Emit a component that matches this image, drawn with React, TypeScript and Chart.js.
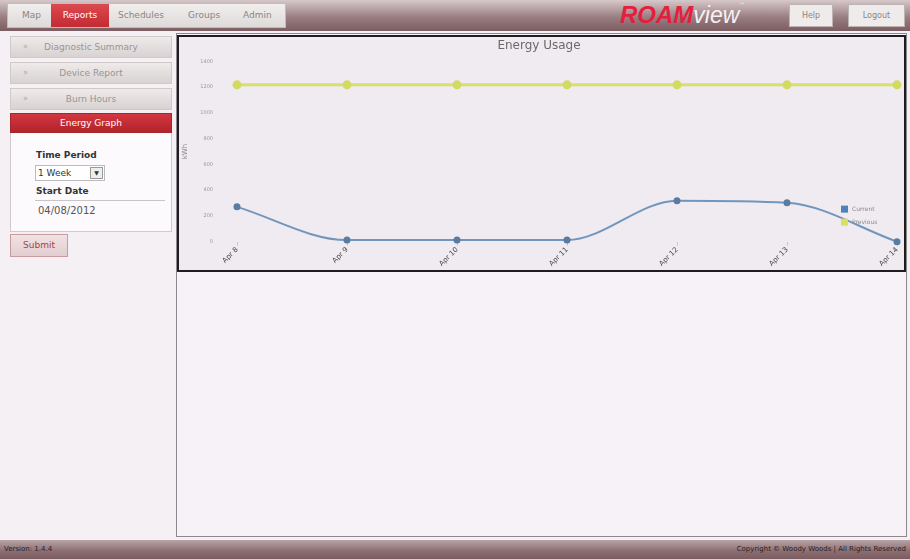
import React, { useEffect, useRef } from "react";
import { Chart, registerables } from "chart.js";

Chart.register(...registerables);

const dayLabels = ["Apr 8", "Apr 9", "Apr 10", "Apr 11", "Apr 12", "Apr 13", "Apr 14"];
const currentKwh = [270, 12, 12, 12, 318, 302, 0];
const previousKwh = [1218, 1218, 1218, 1218, 1218, 1218, 1218];
const yTicksMax = 1400;
const yTicksStep = 200;

const UI_FONT = "'DejaVu Sans', Verdana, sans-serif";

const cornerLegend = {
  id: "cornerLegend",
  afterDatasetsDraw(chart: any) {
    const { ctx, chartArea } = chart;
    const x = chartArea.right - 56;
    const y0 = chartArea.bottom - 36;
    chart.data.datasets.forEach((ds: any, i: number) => {
      const y = y0 + i * 13;
      ctx.save();
      ctx.fillStyle = ds.legendColor;
      ctx.fillRect(x, y, 7, 7);
      ctx.fillStyle = "#8a8a8a";
      ctx.font = "6px " + UI_FONT;
      ctx.textBaseline = "middle";
      ctx.fillText(ds.label, x + 11, y + 3.5);
      ctx.restore();
    });
  },
};

function EnergyChart() {
  const ref = useRef<HTMLCanvasElement | null>(null);
  useEffect(() => {
    if (!ref.current) return;
    const chart = new Chart(ref.current, {
      type: "line",
      data: {
        labels: dayLabels,
        datasets: [
          {
            label: "Current",
            data: currentKwh,
            borderColor: "#7196bd",
            backgroundColor: "#5a7ca2",
            pointBackgroundColor: "#5a7ca2",
            pointBorderColor: "#5a7ca2",
            pointRadius: 2.5,
            borderWidth: 2,
            cubicInterpolationMode: "monotone",
            clip: false,
            legendColor: "#4f83b8",
          } as any,
          {
            label: "Previous",
            data: previousKwh,
            borderColor: "#d8e06a",
            backgroundColor: "#d2da62",
            pointBackgroundColor: "#d2da62",
            pointBorderColor: "#d2da62",
            pointRadius: 3,
            borderWidth: 3,
            cubicInterpolationMode: "monotone",
            legendColor: "#d8e060",
          } as any,
        ],
      },
      options: {
        animation: false,
        responsive: false,
        layout: { padding: { left: 2, right: 7, top: 0, bottom: 2 } },
        plugins: {
          legend: { display: false },
          tooltip: { enabled: false },
          title: {
            display: true,
            text: "Energy Usage",
            color: "#6a6a6a",
            font: { family: UI_FONT, size: 12, weight: "normal" },
            padding: { top: 2, bottom: 8 },
          },
        },
        scales: {
          x: {
            offset: false,
            grid: { drawOnChartArea: false, drawTicks: true, tickLength: 4, color: "#c8c4c8" },
            border: { display: false },
            ticks: {
              color: "#444",
              font: { family: UI_FONT, size: 7 },
              maxRotation: 45,
              minRotation: 45,
              padding: 0,
            },
          },
          y: {
            min: 0,
            max: yTicksMax,
            grid: { display: false },
            border: { display: false },
            afterFit: (s: any) => {
              s.width = 56;
            },
            ticks: {
              stepSize: yTicksStep,
              color: "#999",
              font: { family: UI_FONT, size: 5 },
              padding: 16,
              callback: (v: any) => String(v),
            },
            title: {
              display: true,
              text: "kWh",
              color: "#888",
              font: { family: UI_FONT, size: 7 },
              padding: 0,
            },
          },
        },
      },
      plugins: [cornerLegend],
    });
    return () => chart.destroy();
  }, []);
  return <canvas ref={ref} width={725} height={233} style={{ display: "block" }} />;
}

const abs = (l: number, t: number, w: number, h: number): React.CSSProperties => ({
  position: "absolute",
  left: l,
  top: t,
  width: w,
  height: h,
  boxSizing: "border-box",
});

function SideItem({ top, text, active }: { top: number; text: string; active?: boolean }) {
  return (
    <div
      style={{
        ...abs(10, top, 162, active ? 20 : 22),
        background: active
          ? "linear-gradient(#d2383f, #b3222b)"
          : "linear-gradient(#efebeb, #d8d2d2)",
        border: active ? "1px solid #a5262c" : "1px solid #cfc9c9",
        color: active ? "#fff" : "#9a9494",
        fontSize: 9,
        lineHeight: (active ? 18 : 20) + "px",
        textAlign: "center",
      }}
    >
      {!active && (
        <span style={{ position: "absolute", left: 12, color: "#aaa", fontSize: 8 }}>»</span>
      )}
      {text}
    </div>
  );
}

export default function App() {
  return (
    <div
      style={{
        position: "fixed",
        left: 0,
        top: 0,
        width: 910,
        height: 559,
        overflow: "hidden",
        background: "#f4f0f4",
        fontFamily: UI_FONT,
      }}
    >
      {/* header */}
      <div
        style={{
          ...abs(0, 0, 910, 31),
          background: "linear-gradient(#d6c8ca, #9a7e82 55%, #7b5d62)",
        }}
      />
      <div
        style={{
          ...abs(7, 3, 279, 25),
          background: "linear-gradient(#f1eeee, #dedada)",
          border: "1px solid #c4bcbc",
        }}
      />
      {[
        { t: "Map", x: 22 },
        { t: "Schedules", x: 118 },
        { t: "Groups", x: 188 },
        { t: "Admin", x: 243 },
      ].map((m) => (
        <div key={m.t} style={{ position: "absolute", left: m.x, top: 10, fontSize: 9, color: "#8a8585" }}>
          {m.t}
        </div>
      ))}
      <div
        style={{
          ...abs(51, 4, 58, 23),
          background: "linear-gradient(#dc4a50, #c42a32)",
          color: "#fff",
          fontSize: 9,
          lineHeight: "23px",
          textAlign: "center",
        }}
      >
        Reports
      </div>
      <div style={{ position: "absolute", left: 620, top: 1, whiteSpace: "nowrap" }}>
        <span
          style={{
            color: "#e3203c",
            fontWeight: "bold",
            fontStyle: "italic",
            fontSize: 24,
            letterSpacing: 0,
            fontFamily: "'Liberation Sans', Arial, sans-serif",
          }}
        >
          ROAM
        </span>
        <span
          style={{
            color: "#f6f2f2",
            fontSize: 23,
            fontStyle: "italic",
            fontFamily: "'Liberation Sans', Arial, sans-serif",
          }}
        >
          view
        </span>
        <span style={{ color: "#eee", fontSize: 6, verticalAlign: "top" }}>™</span>
      </div>
      <div
        style={{
          ...abs(789, 4, 44, 23),
          background: "#efebeb",
          border: "1px solid #bdb5b5",
          fontSize: 8,
          color: "#8a8585",
          textAlign: "center",
          lineHeight: "21px",
        }}
      >
        Help
      </div>
      <div
        style={{
          ...abs(848, 4, 57, 23),
          background: "#efebeb",
          border: "1px solid #bdb5b5",
          fontSize: 8,
          color: "#8a8585",
          textAlign: "center",
          lineHeight: "21px",
        }}
      >
        Logout
      </div>

      {/* sidebar */}
      <SideItem top={36} text="Diagnostic Summary" />
      <SideItem top={62} text="Device Report" />
      <SideItem top={88} text="Burn Hours" />
      <SideItem top={113} text="Energy Graph" active />
      <div
        style={{
          ...abs(10, 133, 162, 99),
          background: "#fcfafc",
          border: "1px solid #cfc9cc",
          borderTop: "none",
        }}
      />
      <div style={{ position: "absolute", left: 36, top: 150, fontSize: 9, fontWeight: "bold", color: "#333" }}>
        Time Period
      </div>
      <div
        style={{
          ...abs(35, 165, 70, 16),
          border: "1px solid #bbb",
          background: "#fff",
          fontSize: 9,
          color: "#333",
          paddingLeft: 2,
          lineHeight: "14px",
        }}
      >
        1 Week
        <div
          style={{
            ...abs(54, 1, 13, 12),
            border: "1px solid #999",
            background: "#eee",
            fontSize: 6,
            textAlign: "center",
            lineHeight: "10px",
          }}
        >
          ▼
        </div>
      </div>
      <div style={{ position: "absolute", left: 36, top: 186, fontSize: 9, fontWeight: "bold", color: "#333" }}>
        Start Date
      </div>
      <div
        style={{
          ...abs(35, 200, 130, 22),
          borderTop: "1px solid #c8c4c8",
          fontSize: 10,
          color: "#555",
          paddingLeft: 3,
          lineHeight: "20px",
        }}
      >
        04/08/2012
      </div>
      <div
        style={{
          ...abs(10, 234, 58, 23),
          background: "linear-gradient(#f2e2e4, #e2cdd0)",
          border: "1px solid #c99aa0",
          fontSize: 9,
          color: "#a0444c",
          textAlign: "center",
          lineHeight: "21px",
        }}
      >
        Submit
      </div>

      {/* main panel */}
      <div
        style={{
          ...abs(176, 33, 731, 504),
          border: "1px solid #8c888c",
          background: "#f7f2f7",
        }}
      />
      <div
        style={{
          ...abs(177, 35, 729, 237),
          border: "2px solid #1e1e1e",
          background: "#efebf0",
        }}
      >
        <EnergyChart />
      </div>

      {/* footer */}
      <div
        style={{
          ...abs(0, 540, 910, 19),
          background: "linear-gradient(#b8a4a7, #8a6c71 60%, #7a5c61)",
        }}
      />
      <div style={{ position: "absolute", left: 4, top: 545, fontSize: 7, color: "#2a2020" }}>Version: 1.4.4</div>
      <div style={{ position: "absolute", right: 4, top: 545, fontSize: 7, color: "#2a2020", whiteSpace: "nowrap" }}>
        Copyright © Woody Woods | All Rights Reserved
      </div>
    </div>
  );
}
